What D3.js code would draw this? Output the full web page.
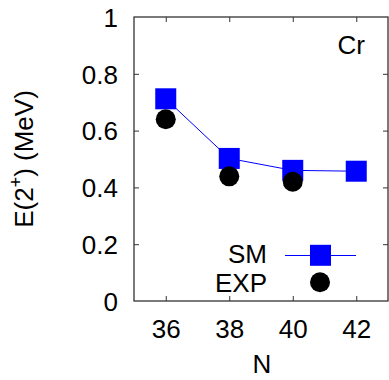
<!DOCTYPE html>
<html><head><meta charset="utf-8">
<script src="https://cdn.jsdelivr.net/npm/d3@7"></script>
<style>
body{margin:0;background:#fff;}
text{font-family:"Liberation Sans",Arial,sans-serif;fill:#000;}
</style></head>
<body>
<svg id="c" width="389" height="380"></svg>
<script>
const neutrons = [36, 38, 40, 42];
const smValues = [0.712, 0.502, 0.46, 0.457];
const expN = [36, 38, 40];
const expValues = [0.64, 0.439, 0.42];
const xTicks = [36, 38, 40, 42];
const yTicks = [0, 0.2, 0.4, 0.6, 0.8, 1];
const yTickLabels = ["0", "0.2", "0.4", "0.6", "0.8", "1"];

const svg = d3.select("#c");
const L = 134, R = 388, T = 17, B = 301;
const x = d3.scaleLinear().domain([35, 43]).range([L, R]);
const y = d3.scaleLinear().domain([0, 1]).range([B, T]);
const fs = 26;
const axisCol = "#333";

const gx = svg.append("g").attr("transform", `translate(0,${B})`)
  .call(d3.axisBottom(x).tickValues(xTicks).tickSize(-5).tickFormat(d3.format("d")));
const gxt = svg.append("g").attr("transform", `translate(0,${T})`)
  .call(d3.axisTop(x).tickValues(xTicks).tickSize(-5).tickFormat(""));
const gy = svg.append("g").attr("transform", `translate(${L},0)`)
  .call(d3.axisLeft(y).tickValues(yTicks).tickSize(-5).tickPadding(16).tickFormat((d,i)=>yTickLabels[i]));
const gyr = svg.append("g").attr("transform", `translate(${R},0)`)
  .call(d3.axisRight(y).tickValues(yTicks).tickSize(-5).tickFormat(""));
[gx,gxt,gy,gyr].forEach(g=>{
  g.select(".domain").remove();
  g.selectAll(".tick line").attr("stroke", axisCol).attr("stroke-width",1);
  g.selectAll("text").attr("font-size", fs).attr("font-family","Liberation Sans, Arial, sans-serif").attr("fill","#000");
});
gx.selectAll(".tick text").attr("dy", null).attr("y", 37);
gy.selectAll(".tick text").attr("dy", "0.36em");
gy.selectAll(".tick line").filter(d=>d===0||d===1).remove();
gyr.selectAll(".tick line").filter(d=>d===0||d===1).remove();

svg.append("rect").attr("x", L).attr("y", T).attr("width", R-L).attr("height", B-T)
  .attr("fill","none").attr("stroke", axisCol).attr("stroke-width", 1.3);

svg.append("text").attr("x", (L+R)/2+1).attr("y", 373).attr("text-anchor","middle").attr("font-size", fs).text("N");
const yl = svg.append("text").attr("transform","translate(33,159) rotate(-90)").attr("text-anchor","middle").attr("font-size", fs);
yl.append("tspan").text("E(2");
yl.append("tspan").attr("font-size", 18).attr("dy", -11).text("+");
yl.append("tspan").attr("dy", 11).text(") (MeV)");

svg.append("text").attr("x", 365).attr("y", 54).attr("text-anchor","end").attr("font-size", fs).text("Cr");

const line = d3.line().x((d,i)=>x(neutrons[i])).y(d=>y(d));
svg.append("path").datum(smValues).attr("d", line).attr("fill","none").attr("stroke","#0000ff").attr("stroke-width",1);
const sq = 21;
svg.selectAll(".sm").data(smValues).enter().append("rect")
  .attr("x",(d,i)=>x(neutrons[i])-sq/2).attr("y",d=>y(d)-sq/2).attr("width",sq).attr("height",sq).attr("fill","#0000ff");
svg.selectAll(".exp").data(expValues).enter().append("circle")
  .attr("cx",(d,i)=>x(expN[i])).attr("cy",d=>y(d)).attr("r",10).attr("fill","#000");

svg.append("text").attr("x", 267).attr("y", 263).attr("text-anchor","end").attr("font-size", fs).text("SM");
svg.append("line").attr("x1",285).attr("x2",356).attr("y1",255.5).attr("y2",255.5).attr("stroke","#0000ff").attr("stroke-width",1);
svg.append("rect").attr("x",320.5-sq/2).attr("y",255.3-sq/2).attr("width",sq).attr("height",sq).attr("fill","#0000ff");
svg.append("text").attr("x", 267).attr("y", 292).attr("text-anchor","end").attr("font-size", fs).text("EXP");
svg.append("circle").attr("cx",320).attr("cy",282.3).attr("r",10).attr("fill","#000");
</script>
</body></html>
